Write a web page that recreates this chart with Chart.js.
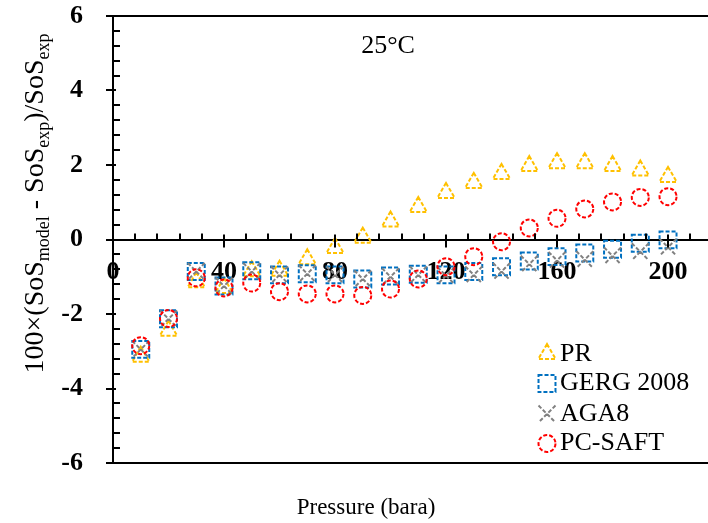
<!DOCTYPE html>
<html>
<head>
<meta charset="utf-8">
<script src="https://cdn.jsdelivr.net/npm/chart.js@4.4.1/dist/chart.umd.min.js"></script>
<style>
  body { margin: 0; background: #fff; }
  #wrap { width: 708px; height: 523px; }
</style>
</head>
<body>
<div id="wrap"><canvas id="sos" width="708" height="523"></canvas></div>
<script>
// pressure in bara, deviations in % of experimental speed of sound
const pressure = [10, 20, 30, 40, 50, 60, 70, 80, 90, 100, 110, 120, 130, 140, 150, 160, 170, 180, 190, 200];
const prDev = [-3.15, -2.45, -1.15, -1.30, -0.85, -0.84, -0.53, -0.23, 0.05, 0.48, 0.87, 1.25, 1.52, 1.76, 1.97, 2.05, 2.05, 1.97, 1.85, 1.68];
const gergDev = [-2.95, -2.13, -0.86, -1.25, -0.84, -0.95, -0.92, -0.95, -1.06, -0.98, -0.93, -0.95, -0.86, -0.73, -0.58, -0.46, -0.36, -0.26, -0.10, -0.01];
const aga8Dev = [-2.95, -2.13, -0.86, -1.25, -0.86, -0.95, -0.92, -0.95, -1.06, -1.00, -0.95, -0.97, -0.95, -0.86, -0.66, -0.56, -0.54, -0.44, -0.33, -0.21];
const pcSaftDev = [-2.85, -2.12, -1.03, -1.30, -1.17, -1.40, -1.46, -1.46, -1.50, -1.33, -1.06, -0.73, -0.46, -0.06, 0.31, 0.57, 0.82, 1.01, 1.13, 1.15];

const seriesNames = ['PR', 'GERG 2008', 'AGA8', 'PC-SAFT'];
const xMajorTicks = [0, 40, 80, 120, 160, 200];
const yMajorTicks = [-6, -4, -2, 0, 2, 4, 6];
const tempLabel = '25°C';
const xTitle = 'Pressure (bara)';

const serif = "'Liberation Serif', 'Times New Roman', serif";

function toPoints(ys) {
  return pressure.map((p, i) => ({ x: p, y: ys[i] }));
}

function isMajor(list, v) {
  return list.some(m => Math.abs(m - v) < 1e-6);
}

const styles = [
  { color: '#FFC000', pointStyle: 'triangle', radius: 10 },
  { color: '#0070C0', pointStyle: 'rect', radius: 12 },
  { color: '#808080', pointStyle: 'crossRot', radius: 12 },
  { color: '#FF0000', pointStyle: 'circle', radius: 8.5 }
];
const allSeries = [prDev, gergDev, aga8Dev, pcSaftDev];

const datasets = allSeries.map((ys, i) => ({
  label: seriesNames[i],
  data: toPoints(ys),
  pointStyle: styles[i].pointStyle,
  pointRadius: styles[i].radius,
  pointHoverRadius: styles[i].radius,
  pointBorderWidth: 2,
  pointBorderColor: styles[i].color,
  pointBackgroundColor: 'rgba(0,0,0,0)',
  showLine: false,
  order: 4 - i
}));

// dashed marker outlines, like the original
const dashMarkers = {
  id: 'dashMarkers',
  beforeDatasetDraw(chart) {
    chart.ctx.save();
    chart.ctx.setLineDash([4, 2]);
  },
  afterDatasetDraw(chart) {
    chart.ctx.restore();
  }
};

const decorations = {
  id: 'decorations',
  afterDraw(chart) {
    const ctx = chart.ctx;
    const area = chart.chartArea;
    const xs = chart.scales.x;
    const ys = chart.scales.y;
    const y0 = ys.getPixelForValue(0);

    ctx.save();
    ctx.strokeStyle = '#000';
    ctx.lineWidth = 2;

    // top and bottom edges of plot area
    ctx.beginPath();
    ctx.moveTo(area.left, area.top);
    ctx.lineTo(area.right, area.top);
    ctx.moveTo(area.left, area.bottom);
    ctx.lineTo(area.right, area.bottom);
    ctx.stroke();

    // tick marks
    ctx.beginPath();
    xs.ticks.forEach(t => {
      const px = Math.round(xs.getPixelForValue(t.value));
      if (isMajor(xMajorTicks, t.value)) {
        if (t.value === 0) return;
        ctx.moveTo(px, y0 - 5);
        ctx.lineTo(px, y0 + 8);
      } else {
        ctx.moveTo(px, y0 - 6);
        ctx.lineTo(px, y0);
      }
    });
    ys.ticks.forEach(t => {
      const py = Math.round(ys.getPixelForValue(t.value));
      if (isMajor(yMajorTicks, t.value)) {
        ctx.moveTo(area.left - 7, py);
        ctx.lineTo(area.left + 3, py);
      } else {
        ctx.moveTo(area.left, py);
        ctx.lineTo(area.left + 7, py);
      }
    });
    ctx.stroke();

    // temperature note
    ctx.fillStyle = '#000';
    ctx.font = '26px ' + serif;
    ctx.textAlign = 'center';
    ctx.textBaseline = 'middle';
    ctx.fillText(tempLabel, 388, 46);

    // x axis title
    ctx.font = '23px ' + serif;
    ctx.fillText(xTitle, 366, 508);

    // y axis title with subscripts
    const parts = [
      ['100×(SoS', false], ['model', true], [' - SoS', false],
      ['exp', true], [')/SoS', false], ['exp', true]
    ];
    const mainFont = '28px ' + serif;
    const subFont = '18px ' + serif;
    let total = 0;
    parts.forEach(p => {
      ctx.font = p[1] ? subFont : mainFont;
      total += ctx.measureText(p[0]).width;
    });
    ctx.translate(43, 203.5);
    ctx.rotate(-Math.PI / 2);
    ctx.textAlign = 'left';
    ctx.textBaseline = 'alphabetic';
    let cx = -total / 2;
    parts.forEach(p => {
      ctx.font = p[1] ? subFont : mainFont;
      ctx.fillText(p[0], cx, p[1] ? 6 : 0);
      cx += ctx.measureText(p[0]).width;
    });
    ctx.restore();

    // legend
    ctx.save();
    const legendY = [354, 383.5, 414, 443.5];
    styles.forEach((s, i) => {
      ctx.save();
      ctx.setLineDash([4, 2]);
      ctx.strokeStyle = s.color;
      ctx.fillStyle = 'rgba(0,0,0,0)';
      ctx.lineWidth = 2;
      Chart.helpers.drawPoint(ctx, { pointStyle: s.pointStyle, radius: s.radius, rotation: 0, borderWidth: 2 }, 547, legendY[i]);
      ctx.restore();
      ctx.fillStyle = '#000';
      ctx.font = '26px ' + serif;
      ctx.textAlign = 'left';
      ctx.textBaseline = 'middle';
      ctx.fillText(seriesNames[i], 560, legendY[i]);
    });
    ctx.restore();
  }
};

new Chart(document.getElementById('sos'), {
  type: 'scatter',
  data: { datasets: datasets },
  options: {
    responsive: false,
    animation: false,
    events: [],
    layout: { autoPadding: false, padding: { top: 16, bottom: 60, left: 0, right: 0 } },
    plugins: {
      legend: { display: false },
      tooltip: { enabled: false }
    },
    scales: {
      x: {
        type: 'linear',
        min: 0,
        max: 214.4,
        position: { y: 0 },
        z: 1,
        grid: { display: false },
        border: { display: true, color: '#000', width: 2 },
        ticks: {
          stepSize: 8,
          includeBounds: false,
          autoSkip: false,
          maxRotation: 0,
          padding: 9,
          color: '#000',
          font: { family: serif, size: 26, weight: 'bold' },
          callback: v => isMajor(xMajorTicks, v) ? String(Math.round(v)) : ''
        },
        afterFit(scale) {
          scale.height = 0;
          scale.paddingLeft = 0;
          scale.paddingRight = 0;
        }
      },
      y: {
        type: 'linear',
        min: -6,
        max: 6,
        position: 'left',
        grid: { display: false },
        border: { display: true, color: '#000', width: 2 },
        ticks: {
          stepSize: 0.4,
          autoSkip: false,
          padding: 22,
          color: '#000',
          font: { family: serif, size: 26, weight: 'bold' },
          callback: v => isMajor(yMajorTicks, v) ? String(Math.round(v)) : ''
        },
        afterFit(scale) {
          scale.width = 113;
          scale.paddingTop = 0;
          scale.paddingBottom = 0;
        }
      }
    }
  },
  plugins: [dashMarkers, decorations]
});
</script>
</body>
</html>
